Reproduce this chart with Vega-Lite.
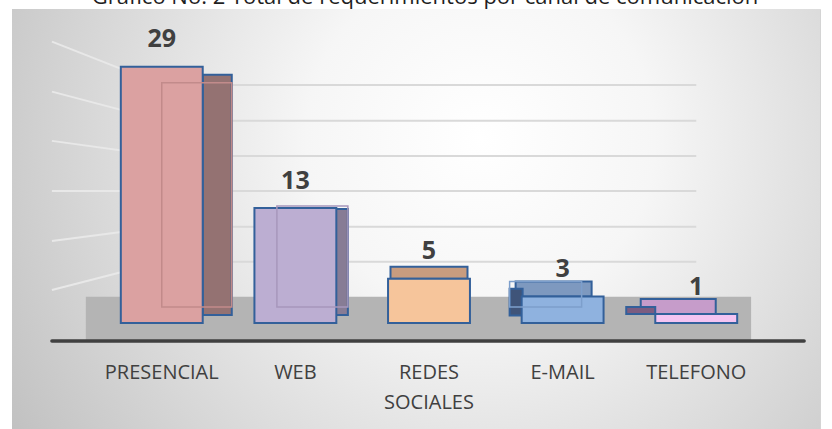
{
  "$schema": "https://vega.github.io/schema/vega-lite/v6.json",
  "width": 808,
  "height": 420,
  "autosize": "none",
  "padding": {"left": 12, "top": 9, "right": 12, "bottom": 0},
  "background": "white",
  "title": {
    "text": "Gráfico No. 2 Total de requerimientos por canal de comunicación",
    "anchor": "middle",
    "offset": 0,
    "dx": 9,
    "font": "Open Sans",
    "fontSize": 22,
    "fontWeight": "normal",
    "color": "#1f1f1f"
  },
  "config": {"view": {"stroke": "#d4d4d4", "strokeWidth": 1}},
  "data": {
    "values": [
      {"canal": "PRESENCIAL", "valor": 29},
      {"canal": "WEB", "valor": 13},
      {"canal": "REDES SOCIALES", "valor": 5},
      {"canal": "E-MAIL", "valor": 3},
      {"canal": "TELEFONO", "valor": 1}
    ]
  },
  "layer": [
    {
      "data": {"values": [{"bg": 1}]},
      "mark": {
        "type": "rect",
        "fill": {
          "gradient": "radial",
          "x1": 0.58, "y1": 0.4, "x2": 0.58, "y2": 0.4, "r1": 0, "r2": 0.72,
          "stops": [
            {"offset": 0, "color": "#ffffff"},
            {"offset": 0.3, "color": "#f6f6f6"},
            {"offset": 1, "color": "#bdbdbd"}
          ]
        }
      },
      "encoding": {
        "x": {"value": 0},
        "x2": {"value": "width"},
        "y": {"value": 0},
        "y2": {"value": "height"}
      }
    },
    {
      "data": {"values": [
        {"desde": "PRESENCIAL", "hasta": "TELEFONO", "back": 26.93, "front": 31.83},
        {"desde": "PRESENCIAL", "hasta": "TELEFONO", "back": 22.89, "front": 26.17},
        {"desde": "PRESENCIAL", "hasta": "TELEFONO", "back": 18.89, "front": 20.6},
        {"desde": "PRESENCIAL", "hasta": "TELEFONO", "back": 14.93, "front": 14.93},
        {"desde": "PRESENCIAL", "hasta": "TELEFONO", "back": 10.89, "front": 9.28},
        {"desde": "PRESENCIAL", "hasta": "TELEFONO", "back": 6.93, "front": 3.73}
      ]},
      "layer": [
        {
          "mark": {"type": "rule", "color": "#d9d9d9", "strokeWidth": 2},
          "encoding": {
            "x": {"field": "desde", "type": "nominal", "axis": null},
            "x2": {"field": "hasta"},
            "y": {"field": "back", "type": "quantitative", "axis": null}
          }
        },
        {
          "mark": {"type": "rule", "color": "#e8e8e8", "strokeWidth": 2},
          "encoding": {
            "x": {"field": "desde", "type": "nominal", "bandPosition": -0.841, "axis": null},
            "x2": {"field": "desde", "bandPosition": 0.5},
            "y": {"field": "front", "type": "quantitative", "axis": null},
            "y2": {"field": "back"}
          }
        }
      ]
    },
    {
      "data": {"values": [{"desde": "PRESENCIAL", "hasta": "TELEFONO", "fondo": 2.95, "frente": -2.04}]},
      "layer": [
        {
          "mark": {"type": "rect", "color": "#b4b4b4"},
          "encoding": {
            "x": {"field": "desde", "type": "nominal", "bandPosition": -0.427, "axis": null},
            "x2": {"field": "hasta", "bandPosition": 1.17},
            "y": {"field": "fondo", "type": "quantitative", "axis": null},
            "y2": {"field": "frente"}
          }
        },
        {
          "mark": {"type": "rule", "color": "#404040", "strokeWidth": 3.5, "strokeCap": "round"},
          "encoding": {
            "x": {"field": "desde", "type": "nominal", "bandPosition": -0.841, "axis": null},
            "x2": {"field": "hasta", "bandPosition": 1.817},
            "y": {"field": "frente", "type": "quantitative", "axis": null}
          }
        }
      ]
    },
    {
      "transform": [{"filter": "datum.canal == 'PRESENCIAL'"}],
      "mark": {"type": "bar", "color": "#947272", "width": 29, "xOffset": 55.5, "yOffset": 8, "y2Offset": -8, "stroke": "#33609a", "strokeWidth": 2},
      "encoding": {
        "x": {"field": "canal", "type": "nominal", "axis": null},
        "y": {"field": "valor", "type": "quantitative", "axis": null},
        "y2": {"datum": 0}
      }
    },
    {
      "transform": [{"filter": "datum.canal == 'WEB'"}],
      "mark": {"type": "bar", "color": "#877c95", "width": 12, "xOffset": 46.5, "yOffset": 1, "y2Offset": -8, "stroke": "#33609a", "strokeWidth": 2},
      "encoding": {
        "x": {"field": "canal", "type": "nominal", "axis": null},
        "y": {"field": "valor", "type": "quantitative", "axis": null},
        "y2": {"datum": 0}
      }
    },
    {
      "transform": [{"filter": "datum.canal == 'REDES SOCIALES'"}],
      "mark": {"type": "bar", "color": "#c89c7f", "width": 77, "yOffset": -12, "stroke": "#33609a", "strokeWidth": 2},
      "encoding": {
        "x": {"field": "canal", "type": "nominal", "axis": null},
        "y": {"field": "valor", "type": "quantitative", "axis": null},
        "y2": {"field": "valor"}
      }
    },
    {
      "transform": [{"filter": "datum.canal == 'E-MAIL'"}],
      "mark": {"type": "bar", "color": "#7e99bf", "width": 76, "xOffset": -9, "yOffset": -15, "stroke": "#33609a", "strokeWidth": 2},
      "encoding": {
        "x": {"field": "canal", "type": "nominal", "axis": null},
        "y": {"field": "valor", "type": "quantitative", "axis": null},
        "y2": {"field": "valor"}
      }
    },
    {
      "transform": [{"filter": "datum.canal == 'E-MAIL'"}],
      "mark": {"type": "bar", "color": "#3f5479", "width": 13, "xOffset": -46.5, "yOffset": -7.6, "y2Offset": -7.5, "stroke": "#33609a", "strokeWidth": 2},
      "encoding": {
        "x": {"field": "canal", "type": "nominal", "axis": null},
        "y": {"field": "valor", "type": "quantitative", "axis": null},
        "y2": {"datum": 0}
      }
    },
    {
      "transform": [{"filter": "datum.canal == 'TELEFONO'"}],
      "mark": {"type": "bar", "color": "#c69cca", "width": 75, "xOffset": -18, "yOffset": -15, "stroke": "#33609a", "strokeWidth": 2},
      "encoding": {
        "x": {"field": "canal", "type": "nominal", "axis": null},
        "y": {"field": "valor", "type": "quantitative", "axis": null},
        "y2": {"field": "valor"}
      }
    },
    {
      "transform": [{"filter": "datum.canal == 'TELEFONO'"}],
      "mark": {"type": "bar", "color": "#7c5c80", "width": 29, "xOffset": -55.5, "yOffset": -7, "y2Offset": -9, "stroke": "#33609a", "strokeWidth": 2},
      "encoding": {
        "x": {"field": "canal", "type": "nominal", "axis": null},
        "y": {"field": "valor", "type": "quantitative", "axis": null},
        "y2": {"datum": 0}
      }
    },
    {
      "mark": {"type": "bar", "stroke": "#33609a", "strokeWidth": 2},
      "encoding": {
        "x": {
          "field": "canal",
          "type": "nominal",
          "scale": {
            "domain": ["PRESENCIAL", "WEB", "REDES SOCIALES", "E-MAIL", "TELEFONO"],
            "range": [42, 792],
            "paddingInner": 0.387,
            "paddingOuter": 0.5
          },
          "axis": null
        },
        "y": {
          "field": "valor",
          "type": "quantitative",
          "scale": {"domain": [-12, 35.52], "nice": false, "zero": false},
          "axis": null
        },
        "y2": {"datum": 0},
        "color": {
          "field": "canal",
          "type": "nominal",
          "scale": {
            "domain": ["PRESENCIAL", "WEB", "REDES SOCIALES", "E-MAIL", "TELEFONO"],
            "range": ["#dba1a1", "#bcaed2", "#f6c59b", "#8fb2df", "#f4c4f2"]
          },
          "legend": null
        }
      }
    },
    {
      "transform": [{"filter": "datum.canal == 'PRESENCIAL'"}],
      "mark": {"type": "bar", "fillOpacity": 0, "stroke": "#c28b8b", "strokeWidth": 1.5, "width": 70, "xOffset": 35, "yOffset": 16, "y2Offset": -16},
      "encoding": {
        "x": {"field": "canal", "type": "nominal", "axis": null},
        "y": {"field": "valor", "type": "quantitative", "axis": null},
        "y2": {"datum": 0}
      }
    },
    {
      "transform": [{"filter": "datum.canal == 'WEB'"}],
      "mark": {"type": "bar", "fillOpacity": 0, "stroke": "#a797bc", "strokeWidth": 1.5, "width": 71, "xOffset": 17, "yOffset": -2, "y2Offset": -16},
      "encoding": {
        "x": {"field": "canal", "type": "nominal", "axis": null},
        "y": {"field": "valor", "type": "quantitative", "axis": null},
        "y2": {"datum": 0}
      }
    },
    {
      "transform": [{"filter": "datum.canal == 'E-MAIL'"}],
      "mark": {"type": "bar", "fillOpacity": 0, "stroke": "#7d9fcc", "strokeWidth": 1.5, "width": 72, "xOffset": -17, "yOffset": -15, "y2Offset": -16},
      "encoding": {
        "x": {"field": "canal", "type": "nominal", "axis": null},
        "y": {"field": "valor", "type": "quantitative", "axis": null},
        "y2": {"datum": 0}
      }
    },
    {
      "mark": {"type": "text", "baseline": "alphabetic", "dy": -19.5, "font": "Open Sans", "fontSize": 25, "fontWeight": "bold", "color": "#404040"},
      "encoding": {
        "x": {"field": "canal", "type": "nominal", "axis": null},
        "y": {"field": "valor", "type": "quantitative", "axis": null},
        "text": {"field": "valor", "type": "quantitative"}
      }
    },
    {
      "mark": {"type": "text", "baseline": "top", "lineBreak": " ", "lineHeight": 30, "font": "Open Sans", "fontSize": 20, "color": "#404040"},
      "encoding": {
        "x": {"field": "canal", "type": "nominal", "axis": null},
        "y": {"datum": -4.5, "type": "quantitative", "axis": null},
        "text": {"field": "canal", "type": "nominal"}
      }
    }
  ]
}
